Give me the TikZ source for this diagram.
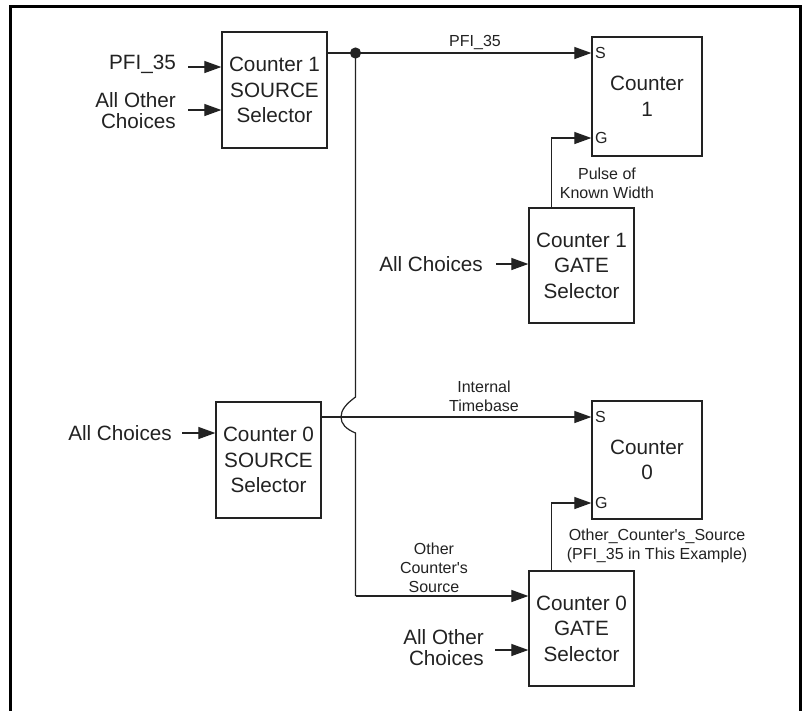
\documentclass[tikz,border=0pt]{standalone}
\usepackage{fontspec}
\setmainfont{Liberation Sans}
\usetikzlibrary{arrows.meta}
\definecolor{ink}{HTML}{222222}
\begin{document}
\begin{tikzpicture}[x=1pt,y=-1pt,
  box/.style={draw=ink,line width=1.3pt,rectangle,inner sep=0pt,text=ink,
    align=center,font=\fontsize{20.7}{25.5}\selectfont},
  big/.style={inner sep=0pt,text=ink,font=\fontsize{20.7}{21}\selectfont},
  small/.style={inner sep=0pt,text=ink,align=center,font=\fontsize{16}{19}\selectfont},
  pin/.style={inner sep=0pt,text=ink,anchor=west,font=\fontsize{16}{19}\selectfont},
  wire/.style={draw=ink,line width=1.2pt},
  arr/.style={wire,-{Triangle[length=17pt,width=12pt]}}]
\useasboundingbox (0,0) rectangle (802,710);
\fill[white] (0,0) rectangle (802,710);
\draw[line width=3pt,black] (10,720) -- (10,6) -- (800.5,6) -- (800.5,720);

% boxes
\node[box,minimum width=105,minimum height=116] (s1) at (274.5,90) {Counter 1\\SOURCE\\Selector};
\node[box,minimum width=110,minimum height=119] (c1) at (647,96.5) {Counter\\1};
\node[box,minimum width=105,minimum height=115] (g1) at (581.5,265.5) {Counter 1\\GATE\\Selector};
\node[box,minimum width=105,minimum height=116] (s0) at (268.5,460) {Counter 0\\SOURCE\\Selector};
\node[box,minimum width=110,minimum height=118] (c0) at (647,460) {Counter\\0};
\node[box,minimum width=105,minimum height=115] (g0) at (581.5,628.5) {Counter 0\\GATE\\Selector};

% pin letters
\node[pin] (c1S) at (595,53) {S};
\node[pin] (c1G) at (595,138) {G};
\node[pin] (c0S) at (595,417) {S};
\node[pin] (c0G) at (595,503) {G};

% input labels
\node[big,anchor=east] (inA) at (176,64) {PFI\_35};
\node[big,anchor=east,align=right] (inB) at (176,111) {All Other\\Choices};
\node[big,anchor=east] (inC) at (483,264) {All Choices};
\node[big,anchor=east] (inD) at (172,433) {All Choices};
\node[big,anchor=east,align=right] (inE) at (484,648) {All Other\\Choices};

% input arrows
\coordinate (a1) at (188,67);
\coordinate (a2) at (188,110);
\coordinate (a3) at (496,264);
\coordinate (a4) at (182,433);
\coordinate (a5) at (495,650);
\draw[arr] (a1) -- (a1 -| s1.west);
\draw[arr] (a2) -- (a2 -| s1.west);
\draw[arr] (a3) -- (a3 -| g1.west);
\draw[arr] (a4) -- (a4 -| s0.west);
\draw[arr] (a5) -- (a5 -| g0.west);

% signal labels
\node[small] (lPFI) at (475,43) {PFI\_35};
\node[small] (lPulse) at (607,183) {Pulse of\\Known Width};
\node[small] (lInt) at (484,396.5) {Internal\\Timebase};
\node[small] (lOth) at (434,568) {Other\\Counter\textquotesingle s\\Source};
\node[small] (lOCS) at (657,545.5) {Other\_Counter\textquotesingle s\_Source\\(PFI\_35 in This Example)};

% connectors
\coordinate (j1) at (355.5,53);
\coordinate (hopT) at (355.5,397);
\coordinate (hopM) at (341,417);
\coordinate (hopB) at (355.5,433);
\coordinate (turn) at (355.5,596);
\draw[arr] (j1 -| s1.east) -- (j1 -| c1.west);
\fill[ink] (j1) circle (5.6);
\draw[wire] (j1) -- (hopT) .. controls (346,404) and (341,410) .. (hopM)
  .. controls (341,424) and (346,429) .. (hopB) -- (turn);
\draw[arr] (turn) -- (turn -| g0.west);
\draw[arr] (c0S.west -| s0.east) -- (c0S.west -| c0.west);
\draw[arr] ([xshift=23pt]g1.north west) |- (c1G.west -| c1.west);
\draw[arr] ([xshift=23pt]g0.north west) |- (c0G.west -| c0.west);
\end{tikzpicture}
\end{document}
